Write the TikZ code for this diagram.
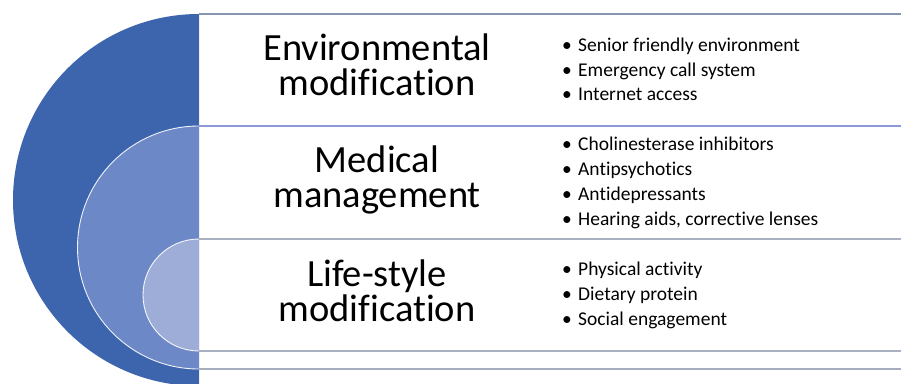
\documentclass[tikz,border=0pt]{standalone}
\usepackage{fontspec}
\setmainfont{Carlito}[Ligatures=NoCommon]
\definecolor{darkb}{HTML}{3D65AD}
\definecolor{midb}{HTML}{6C88C6}
\definecolor{lightb}{HTML}{9EADD8}
\definecolor{lineA}{HTML}{8797B3}
\definecolor{lineB}{HTML}{8D98D8}
\definecolor{lineC}{HTML}{A9B0BF}
\newcommand\bul{\makebox[16pt][l]{\textbullet}}
\tikzset{
  title/.style={font=\fontsize{38.5}{35}\selectfont, inner sep=0pt, anchor=base, text=black},
  item/.style={font=\fontsize{19.5}{24.7}\selectfont, inner sep=0pt, anchor=base west, text=black},
  rowline/.style={line width=1.4pt}
}
\begin{document}
\begin{tikzpicture}[x=1pt,y=-1pt]
\useasboundingbox (0,0) rectangle (901,383);
\fill[white] (0,0) rectangle (901,383);
% nested half discs
\begin{scope}
  \clip (0,0) rectangle (199,383);
  \fill[darkb] (199,200) circle[radius=186];
  \fill[midb] (199,247.5) circle[radius=121.5];
  \draw[white!90!midb, line width=0.9pt] (199,247.5) circle[radius=121.5];
  \fill[lightb] (199,295) circle[radius=56];
  \draw[white!90!lightb, line width=0.9pt] (199,295) circle[radius=56];
\end{scope}
\draw[white!85!lineA, line width=0.6pt] (199.3,14) -- (199.3,383);
% row lines
\draw[rowline, lineA] (199,14) -- (901,14);
\draw[rowline, lineB] (199,126) -- (901,126);
\draw[rowline, lineC] (199,239) -- (901,239);
\draw[rowline, lineC] (199,351) -- (901,351);
\draw[rowline, lineC!90!lineA] (199,369) -- (901,369);
% titles
\node[title] (t1a) at (377,60) {Environmental};
\node[title] (t1b) at (377,95) {modification};
\node[title] (t2a) at (377,172.5) {Medical};
\node[title] (t2b) at (377,207.5) {management};
\node[title] (t3a) at (377,286) {Life-style};
\node[title] (t3b) at (377,321) {modification};
% bullets
\node[item] (b1a) at (562,51.3) {\bul Senior friendly environment};
\node[item] (b1b) at (562,76) {\bul Emergency call system};
\node[item] (b1c) at (562,100.7) {\bul Internet access};
\node[item] (b2a) at (562,150.9) {\bul Cholinesterase inhibitors};
\node[item] (b2b) at (562,175.6) {\bul Antipsychotics};
\node[item] (b2c) at (562,200.3) {\bul Antidepressants};
\node[item] (b2d) at (562,225) {\bul Hearing aids, corrective lenses};
\node[item] (b3a) at (562,275.8) {\bul Physical activity};
\node[item] (b3b) at (562,300.5) {\bul Dietary protein};
\node[item] (b3c) at (562,325.2) {\bul Social engagement};
\end{tikzpicture}
\end{document}
